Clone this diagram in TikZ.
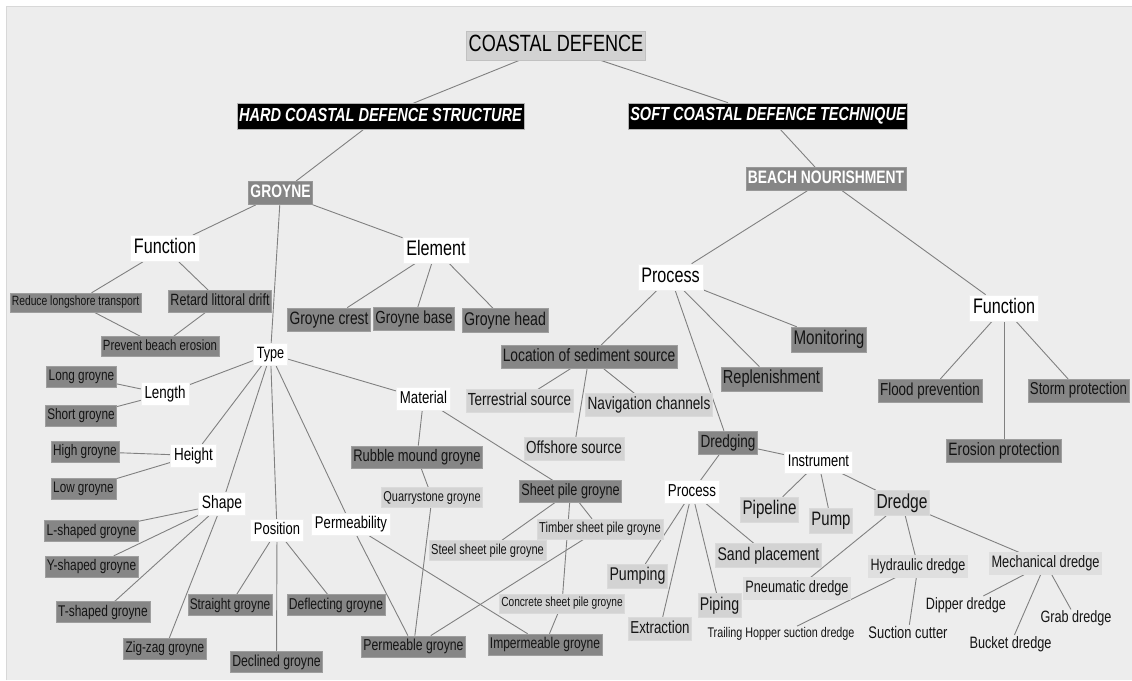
\documentclass[tikz,border=0pt]{standalone}
\usepackage{fontspec}
\setmainfont{Liberation Sans}[FakeStretch=0.77]

\definecolor{paper}{RGB}{237,237,237}
\definecolor{paneledge}{RGB}{216,216,216}
\definecolor{linkgrey}{RGB}{128,128,128}
\definecolor{darkbox}{RGB}{134,134,134}
\definecolor{lightbox}{RGB}{211,211,211}
\definecolor{palebox}{RGB}{223,223,223}
\definecolor{rootbox}{RGB}{210,210,210}

\pgfdeclarelayer{panel}
\pgfdeclarelayer{links}
\pgfsetlayers{panel,links,main}

\tikzset{
  sz/.style={font=\fontsize{#1}{#1}\selectfont, text height={0.74*#1pt}, text depth={0.22*#1pt}},
  bsz/.style={font=\fontsize{#1}{#1}\bfseries\selectfont, text height={0.74*#1pt}, text depth={0.22*#1pt}},
  bisz/.style={font=\fontsize{#1}{#1}\bfseries\itshape\selectfont, text height={0.74*#1pt}, text depth={0.22*#1pt}},
  boxbase/.style={inner xsep=2pt, inner ysep=3pt, line width=0.5pt},
  rootn/.style={boxbase, fill=rootbox, draw=rootbox!92!black},
  blackn/.style={boxbase, fill=black, draw=gray!60, text=white, inner ysep=4pt},
  midn/.style={boxbase, fill=darkbox, draw=darkbox!85!white, text=white},
  whiten/.style={boxbase, fill=white, draw=gray!12, inner xsep=3.5pt},
  darkn/.style={boxbase, fill=darkbox, draw=darkbox!80!white, text=black!92},
  lightn/.style={boxbase, fill=lightbox, draw=lightbox!85!white, text=black!92},
  palen/.style={boxbase, fill=palebox, draw=palebox, text=black!92},
  plainn/.style={inner sep=1pt, text=black!92},
  link/.style={draw=linkgrey, line width=0.9pt},
}

\begin{document}
\begin{tikzpicture}[x=1pt, y=-1pt]
\useasboundingbox (0,0) rectangle (1132,680);

\begin{pgfonlayer}{panel}
  \fill[white] (0,0) rectangle (1132,680);
  \fill[paper] (6,6) rectangle (1132,680);
  \draw[paneledge, line width=1pt] (6.5,680) -- (6.5,6.5) -- (1132,6.5);
\end{pgfonlayer}

% top levels
\node[rootn, sz=23.5] (coastal) at (556,45.5) {COASTAL DEFENCE};
\node[blackn, bisz=18.9] (hard) at (380.5,116.5) {HARD COASTAL DEFENCE STRUCTURE};
\node[blackn, bisz=18.9] (soft) at (768,116) {SOFT COASTAL DEFENCE TECHNIQUE};
\node[midn, bsz=18] (groyne) at (280.5,193) {GROYNE};
\node[midn, bsz=18] (beach) at (826,179) {BEACH NOURISHMENT};

% groyne: function and element
\node[whiten, sz=21] (funcL) at (165,248.5) {Function};
\node[whiten, sz=21] (element) at (436,250) {Element};
\node[darkn, sz=13.4] (reduce) at (75.5,302.5) {Reduce longshore transport};
\node[darkn, sz=16.3] (retard) at (220,301.5) {Retard littoral drift};
\node[darkn, sz=14.8] (prevent) at (160,346.5) {Prevent beach erosion};
\node[darkn, sz=17.9] (crest) at (329,319.5) {Groyne crest};
\node[darkn, sz=17.5] (gbase) at (414,319) {Groyne base};
\node[darkn, sz=18.4] (ghead) at (505,320.5) {Groyne head};

% groyne: type
\node[whiten, sz=16.4] (type) at (270.5,354) {Type};
\node[whiten, sz=17.4] (length) at (165,394) {Length};
\node[darkn, sz=15.3] (long) at (81.5,376.5) {Long groyne};
\node[darkn, sz=15.3] (short) at (81,416) {Short groyne};
\node[whiten, sz=17.5] (height) at (193.5,455.5) {Height};
\node[darkn, sz=15.3] (high) at (85,451.5) {High groyne};
\node[darkn, sz=15.2] (low) at (83.5,488.5) {Low groyne};
\node[whiten, sz=18] (shape) at (222,504) {Shape};
\node[darkn, sz=15.5] (lsh) at (91.5,531) {L-shaped groyne};
\node[darkn, sz=15.4] (ysh) at (91.5,566.5) {Y-shaped groyne};
\node[darkn, sz=15.5] (tsh) at (103,612) {T-shaped groyne};
\node[darkn, sz=15.3] (zigzag) at (165,649) {Zig-zag groyne};
\node[whiten, sz=16.8] (position) at (277,530.5) {Position};
\node[darkn, sz=15.4] (straight) at (230,605) {Straight groyne};
\node[darkn, sz=15.7] (deflect) at (336,605) {Deflecting groyne};
\node[darkn, sz=15.9] (declined) at (276.5,662) {Declined groyne};
\node[whiten, sz=17] (perm) at (351,524.5) {Permeability};
\node[darkn, sz=15.9] (permeable) at (413.5,646.5) {Permeable groyne};
\node[darkn, sz=15.6] (imperm) at (545,644.5) {Impermeable groyne};
\node[whiten, sz=17.2] (material) at (423.5,399) {Material};
\node[darkn, sz=16.8] (rubble) at (417,457) {Rubble mound groyne};
\node[lightn, sz=14.3] (quarry) at (432,497.5) {Quarrystone groyne};
\node[darkn, sz=16.4] (sheet) at (570.5,491.5) {Sheet pile groyne};
\node[lightn, sz=14.4] (timber) at (600,529) {Timber sheet pile groyne};
\node[lightn, sz=14.4] (steel) at (487.5,550.5) {Steel sheet pile groyne};
\node[lightn, sz=13.2] (concrete) at (562,603.5) {Concrete sheet pile groyne};

% beach nourishment
\node[whiten, sz=21] (procT) at (670.5,277) {Process};
\node[whiten, sz=21] (funcR) at (1004,308) {Function};
\node[darkn, sz=17.9] (location) at (589,357) {Location of sediment source};
\node[darkn, sz=19.7] (monitor) at (829,339.5) {Monitoring};
\node[darkn, sz=18.9] (replen) at (771.5,379) {Replenishment};
\node[lightn, sz=17.5] (terr) at (519.5,401) {Terrestrial source};
\node[lightn, sz=17.7] (navig) at (649,405) {Navigation channels};
\node[lightn, sz=17.5] (offsh) at (574,448.5) {Offshore source};
\node[darkn, sz=17.4] (flood) at (930,390.5) {Flood prevention};
\node[darkn, sz=17.2] (storm) at (1078.5,390.5) {Storm protection};
\node[darkn, sz=17.9] (erosion) at (1004,450.5) {Erosion protection};
\node[darkn, sz=17.6] (dredging) at (728,442.5) {Dredging};
\node[whiten, sz=16.8] (instr) at (818.5,462) {Instrument};
\node[whiten, sz=17.3] (procB) at (692,492) {Process};
\node[lightn, sz=19.7] (pipeline) at (769.5,509.5) {Pipeline};
\node[lightn, sz=19.4] (pump) at (831,520.5) {Pump};
\node[lightn, sz=20.2] (dredge) at (902,503) {Dredge};
\node[lightn, sz=18.3] (sand) at (768.5,555.5) {Sand placement};
\node[lightn, sz=18.4] (pumping) at (637.5,576) {Pumping};
\node[lightn, sz=18.4] (piping) at (719.5,605.5) {Piping};
\node[lightn, sz=17.3] (extract) at (660,628.5) {Extraction};
\node[palen, sz=16.5] (pneum) at (797,588.5) {Pneumatic dredge};
\node[palen, sz=16.3] (hydr) at (918,566.5) {Hydraulic dredge};
\node[palen, sz=16.6] (mech) at (1045.5,563.5) {Mechanical dredge};
\node[plainn, sz=14] (trailing) at (781,634) {Trailing Hopper suction dredge};
\node[plainn, sz=16.8] (suction) at (908,634) {Suction cutter};
\node[plainn, sz=16.4] (dipper) at (966,605) {Dipper dredge};
\node[plainn, sz=16.4] (grab) at (1076,618.5) {Grab dredge};
\node[plainn, sz=16.5] (bucket) at (1010.5,644) {Bucket dredge};

\begin{pgfonlayer}{links}
\foreach \a/\b in {
  coastal/hard, coastal/soft, hard/groyne, soft/beach,
  groyne/funcL, groyne/type, groyne/element,
  funcL/reduce, funcL/retard, reduce/prevent, retard/prevent,
  element/crest, element/gbase, element/ghead,
  type/length, type/height, type/shape, type/position, type/perm, type/material,
  length/long, length/short, height/high, height/low,
  shape/lsh, shape/ysh, shape/tsh, shape/zigzag,
  position/straight, position/deflect, position/declined,
  perm/permeable, perm/imperm,
  material/rubble, material/sheet, rubble/quarry, quarry/permeable,
  sheet/steel, sheet/timber, sheet/concrete, timber/permeable, concrete/imperm,
  beach/procT, beach/funcR,
  procT/location, procT/dredging, procT/replen, procT/monitor,
  location/terr, location/offsh, location/navig,
  funcR/flood, funcR/erosion, funcR/storm,
  dredging/instr, dredging/procB,
  procB/pumping, procB/extract, procB/piping, procB/sand,
  instr/pipeline, instr/pump, instr/dredge,
  dredge/pneum, dredge/hydr, dredge/mech,
  hydr/trailing, hydr/suction,
  mech/dipper, mech/bucket, mech/grab}
  \draw[link] (\a) -- (\b);
\end{pgfonlayer}
\end{tikzpicture}
\end{document}
